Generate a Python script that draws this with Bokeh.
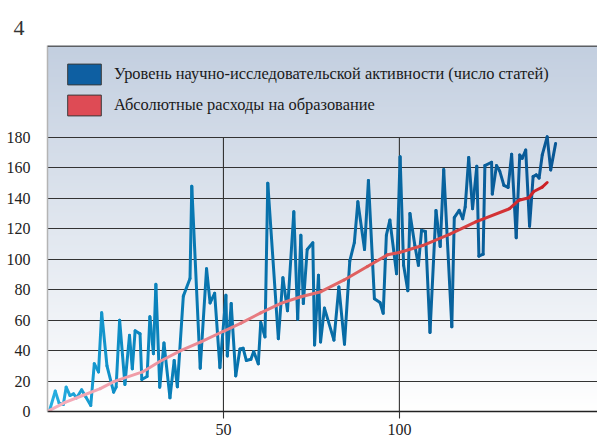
import numpy as np
from bokeh.plotting import figure
from bokeh.models import FixedTicker, Legend, LegendItem, Span
from bokeh.embed import file_html
from bokeh.resources import INLINE

# ---------------- data ----------------
title_text = "4"
label_blue = "Уровень научно-исследовательской активности (число статей)"
label_red = "Абсолютные расходы на образование"

blue_x = [0.5, 2.2, 3.3, 4.5, 5.3, 6.4, 7.4, 8.3, 9.7, 10.9, 12.3, 13.3, 14.5, 15.4, 16.9,
          18.8, 19.5, 20.5, 22.0, 23.3, 24.1, 24.9, 26.3, 26.8, 28.3, 29.1, 30.1, 30.8, 31.9,
          33.1, 34.8, 36.0, 36.9, 38.6, 40.5, 41.0, 43.4, 45.2, 46.2, 47.5, 49.0, 50.7, 51.1,
          52.2, 53.5, 54.7, 55.6, 56.5, 57.8, 58.6, 59.9, 60.6, 61.8, 62.6, 65.6, 66.9, 68.2,
          70.0, 71.1, 72.0, 72.7, 73.8, 75.4, 75.9, 77.0, 77.6, 78.7, 81.4, 82.8, 84.4, 85.9,
          87.2, 88.2, 90.1, 91.2, 92.9, 94.5, 95.4, 96.3, 97.3, 99.2, 100.2, 101.2, 102.4,
          103.0, 104.4, 105.4, 106.3, 107.4, 108.7, 110.4, 111.6, 112.6, 114.9, 115.6, 117.0,
          118.0, 118.7, 119.7, 120.8, 122.0, 122.6, 123.8, 124.3, 126.2, 126.4, 127.6, 128.5,
          129.7, 130.9, 131.9, 133.2, 134.2, 134.9, 135.9, 137.0, 138.0, 138.9, 139.7, 140.6,
          142.0, 143.0, 144.4]
blue_y = [0, 13.4, 5.5, 4.6, 16, 10.5, 11.6, 9, 14.3, 9.5, 4, 31.4, 26, 64.8, 30,
          12.7, 16, 60, 17.8, 50, 28, 53, 51, 21, 23, 62.2, 38, 83.5, 16,
          45, 9, 33.5, 16.2, 75.8, 87.3, 148, 28.4, 93.8, 71.3, 77.6, 28.8, 76.3, 36.5,
          70.9, 23.4, 41, 41.5, 33.5, 34.3, 39.4, 31.3, 58.5, 49, 150, 47.8, 87.9, 66.2,
          131.2, 60.6, 115.8, 70.9, 106.4, 110.8, 43.7, 89.5, 45.7, 67.9, 46.9, 81.8, 44.2, 98.8,
          110.9, 137.7, 106.4, 151.8, 74.1, 71.6, 64.5, 115.8, 125.7, 90.5, 167.3, 96, 79.3,
          130, 109, 96, 119, 118.2, 51.9, 132, 108.4, 158.9, 55.6, 127.3, 132.1,
          126.6, 134.3, 166.8, 133.2, 161.1, 102, 103.3, 161.5, 163.7, 142.8, 161.5, 158,
          148.5, 147.2, 168.9, 114.1, 168.5, 166.3, 171.7, 121.7, 154.3, 155.4, 153.3, 168.5,
          180.4, 158.7, 176.1]

red_x = [0, 5, 10, 15, 19, 27, 32, 38, 43.6, 50, 55, 60.6, 66.3, 72, 77.7, 84.3, 90.9,
         96.6, 100, 106.6, 114.2, 121.7, 131.3, 134.0, 136.8, 138.2, 140.6, 142.0]
red_y = [0, 6, 10.5, 15, 19.8, 26, 33, 40.2, 45.7, 52.7, 58, 64.8, 71, 75.4, 78.7, 86.4, 95.2,
         102.9, 104.4, 109, 116.3, 124.6, 133.2, 138.8, 140.4, 144.5, 147.4, 150.4]

x_ticks = [50, 100]
y_ticks = [0, 20, 40, 60, 80, 100, 120, 140, 160, 180]

# ---------------- styling ----------------
X_END = 156.3
Y_END = 240.4
SERIF = "Liberation Serif"

p = figure(width=597, height=442, output_backend="svg", toolbar_location=None,
           x_range=(0, X_END), y_range=(0, Y_END),
           min_border_left=47, min_border_right=0, min_border_top=45, min_border_bottom=31)
p.outline_line_color = None
p.background_fill_color = "white"
p.border_fill_color = "white"

# background gradient panel
n = 256
t = np.linspace(0, 1, n)[:, None]  # 0 bottom -> 1 top
top = np.array([195, 207, 224])
bot = np.array([255, 255, 255])
cols = (bot + (top - bot) * t).astype(np.uint32)
img = np.zeros((n, 1), dtype=np.uint32)
view = img.view(dtype=np.uint8).reshape((n, 1, 4))
view[:, 0, 0] = cols[:, 0]
view[:, 0, 1] = cols[:, 1]
view[:, 0, 2] = cols[:, 2]
view[:, 0, 3] = 255
bg = p.image_rgba(image=[img], x=0, y=0, dw=X_END, dh=Y_END)
bg.level = "image"

# top border of panel
p.add_layout(Span(location=Y_END - 0.35, dimension="width", line_color="#3a3a3a", line_width=1.5))

# grids
p.xgrid.visible = False
p.ygrid.ticker = FixedTicker(ticks=y_ticks)
p.ygrid.grid_line_color = "#333333"
p.ygrid.grid_line_width = 1.1
vg = p.segment(x0=x_ticks, y0=[0] * len(x_ticks), x1=x_ticks, y1=[y_ticks[-1]] * len(x_ticks),
               line_color="#333333", line_width=1.1)
vg.level = "underlay"

# axes
xa = p.xaxis[0]
xa.ticker = FixedTicker(ticks=x_ticks)
xa.axis_line_color = "#222222"
xa.axis_line_width = 1.3
xa.major_tick_out = 7
xa.major_tick_in = 0
xa.major_tick_line_color = "#333333"
xa.major_tick_line_width = 1.1
xa.minor_tick_line_color = None
xa.major_label_standoff = 5
xa.major_label_text_font = SERIF
xa.major_label_text_font_size = "16px"
xa.major_label_text_color = "#222222"

ya = p.yaxis[0]
ya.ticker = FixedTicker(ticks=y_ticks)
ya.axis_line_color = "#b4b4b4"
ya.axis_line_width = 1.5
ya.major_tick_out = 0
ya.major_tick_in = 0
ya.major_tick_line_color = None
ya.minor_tick_line_color = None
ya.major_label_standoff = 17
ya.major_label_text_font = SERIF
ya.major_label_text_font_size = "16px"
ya.major_label_text_color = "#222222"


def interp_colors(xs, stops):
    sx = [s[0] for s in stops]
    out = []
    for xv in xs:
        r = np.interp(xv, sx, [s[1][0] for s in stops])
        g = np.interp(xv, sx, [s[1][1] for s in stops])
        b = np.interp(xv, sx, [s[1][2] for s in stops])
        out.append("#%02x%02x%02x" % (int(r), int(g), int(b)))
    return out


bx = np.array(blue_x)
by = np.array(blue_y)
blue_stops = [(0, (40, 176, 226)), (20, (14, 142, 198)), (45, (8, 118, 176)),
              (100, (8, 104, 162)), (145, (10, 88, 150))]
bmid = (bx[:-1] + bx[1:]) / 2
p.segment(x0=bx[:-1], y0=by[:-1], x1=bx[1:], y1=by[1:],
          line_color=interp_colors(bmid, blue_stops), line_width=3, line_cap="round")

rx = np.array(red_x)
ry = np.array(red_y)
red_stops = [(0, (246, 178, 192)), (40, (236, 140, 150)), (80, (226, 104, 104)),
             (110, (218, 72, 72)), (142, (205, 32, 38))]
rmid = (rx[:-1] + rx[1:]) / 2
p.segment(x0=rx[:-1], y0=ry[:-1], x1=rx[1:], y1=ry[1:],
          line_color=interp_colors(rmid, red_stops), line_width=3, line_cap="round")

# legend with box swatches (renderers with no drawable data, only for the legend)
nan = [float("nan")]
sw_blue = p.quad(left=nan, right=nan, top=nan, bottom=nan, fill_color="#0e5fa2",
                 line_color="#3a3a3a", line_width=1)
sw_red = p.quad(left=nan, right=nan, top=nan, bottom=nan, fill_color="#de4b55",
                line_color="#3a3a3a", line_width=1)
legend = Legend(items=[LegendItem(label=label_blue, renderers=[sw_blue]),
                       LegendItem(label=label_red, renderers=[sw_red])],
                location="top_left", margin=16, padding=7,
                glyph_width=42, glyph_height=26, spacing=5, label_standoff=9,
                label_text_font=SERIF, label_text_font_size="16.4px",
                label_text_color="#1a1a1a",
                border_line_color=None, background_fill_alpha=0)
p.add_layout(legend, "center")

# title
p.title.text = title_text
p.title.text_font = SERIF
p.title.text_font_size = "22px"
p.title.text_font_style = "normal"
p.title.text_color = "#333333"
p.title.align = "left"
p.title.offset = -34
p.title.standoff = 21

open("out.html", "w").write(file_html(p, INLINE))
